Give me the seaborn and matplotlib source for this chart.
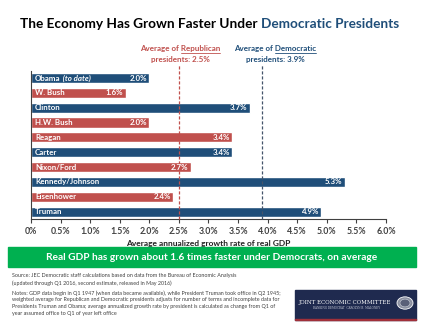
import matplotlib
matplotlib.use("Agg")
import matplotlib.pyplot as plt
import seaborn as sns
import pandas as pd
from matplotlib.patches import Rectangle, Circle
from matplotlib.text import Annotation
from matplotlib.ticker import FuncFormatter

# Data
presidents = ["Obama", "W. Bush", "Clinton", "H.W. Bush", "Reagan", "Carter",
              "Nixon/Ford", "Kennedy/Johnson", "Eisenhower", "Truman"]
parties = ["D", "R", "D", "R", "R", "D", "R", "D", "R", "D"]
growth = [2.0, 1.6, 3.7, 2.0, 3.4, 3.4, 2.7, 5.3, 2.4, 4.9]
avg_republican = 2.5
avg_democratic = 3.9
xticks = [0, 0.5, 1.0, 1.5, 2.0, 2.5, 3.0, 3.5, 4.0, 4.5, 5.0, 5.5, 6.0]

BLUE = "#1F4E79"
RED = "#C0504D"
GREEN = "#00B050"
GREY = "#404040"

sns.set_theme(style="white")
plt.rcParams["font.family"] = ["Lato", "DejaVu Sans"]

df = pd.DataFrame({"president": presidents, "party": parties, "growth": growth})

fig = plt.figure(figsize=(4.27, 3.30), dpi=100)
W, H = 427, 330
ax = fig.add_axes([31 / W, 1 - 219 / H, 355 / W, 148.4 / H])

sns.barplot(data=df, y="president", x="growth", hue="party", orient="h",
            palette={"D": BLUE, "R": RED}, dodge=False, width=0.68,
            saturation=1, legend=False, ax=ax, zorder=2)

ax.set_xlim(0, 6.0)
ax.set_xticks(xticks)
ax.xaxis.set_major_formatter(FuncFormatter(lambda v, p: "0%" if v == 0 else f"{v:.1f}%"))
ax.set_yticks([])
ax.set_ylabel("")
ax.set_xlabel("Average annualized growth rate of real GDP", fontsize=6.0,
              fontweight="bold", color="#202020", labelpad=2.5)
ax.tick_params(axis="x", which="major", bottom=True, length=3, width=0.8,
               color=GREY, labelsize=6.3, labelcolor=GREY, pad=3)
for lab in ax.get_xticklabels():
    lab.set_fontweight("bold")
for side in ["top", "right"]:
    ax.spines[side].set_visible(False)
ax.spines["bottom"].set_color(GREY)
ax.spines["bottom"].set_linewidth(0.8)
ax.spines["left"].set_color(GREY)
ax.spines["left"].set_linewidth(0.8)

# Average lines
ax.axvline(avg_republican, ymin=0, ymax=1.035, color=RED, lw=0.9,
           ls=(0, (2.5, 1.5)), clip_on=False, zorder=3)
ax.axvline(avg_democratic, ymin=0, ymax=1.035, color="#44546A", lw=0.9,
           ls=(0, (2.5, 1.5)), clip_on=False, zorder=3)

# Bar labels
LFS = 5.7
for i, (name, val) in enumerate(zip(presidents, growth)):
    t = ax.text(0.07, i, name, color="white", fontsize=LFS, fontweight="bold",
                va="center", ha="left", zorder=5)
    if name == "Obama":
        ax.annotate(" (to date)", xy=(1, 0), xycoords=t, va="bottom", ha="left",
                    color="white", fontsize=LFS, fontweight="bold",
                    fontstyle="italic", zorder=5)
    ax.text(val - 0.04, i, f"{val:.1f}%", color="white", fontsize=LFS,
            fontweight="bold", va="center", ha="right", zorder=5)

# Title
t1 = fig.text(20 / W, 1 - 28 / H, "The Economy Has Grown Faster Under ",
              fontsize=9.8, fontweight="bold", color="black", ha="left", va="baseline")
fig.add_artist(Annotation("Democratic Presidents", xy=(1, 0), xycoords=t1,
                          va="bottom", ha="left", fontsize=9.8,
                          fontweight="bold", color=BLUE))

# Average annotations with underlined party name
AFS = 5.8
def avg_label(xc, line1, word, line2, color):
    a = fig.text(xc / W, 1 - 51 / H, line1, fontsize=AFS, fontweight="bold",
                 color=color, ha="center", va="baseline")
    fig.text(xc / W, 1 - 62 / H, line2, fontsize=AFS, fontweight="bold",
             color=color, ha="center", va="baseline")
    return a, word, color

labels = [avg_label(180, "Average of Republican", "Republican", "presidents: 2.5%", RED),
          avg_label(275, "Average of Democratic", "Democratic", "presidents: 3.9%", BLUE)]

fig.canvas.draw()
r = fig.canvas.get_renderer()
for a, word, color in labels:
    ext = a.get_window_extent(r)
    tmp = fig.text(0, 0, word, fontsize=AFS, fontweight="bold")
    ww = tmp.get_window_extent(r).width
    tmp.remove()
    y = ext.y0 - 1.0
    fig.add_artist(plt.Line2D([(ext.x1 - ww) / W, ext.x1 / W], [y / H, y / H],
                              color=color, lw=0.6, transform=fig.transFigure))

# Green banner
fig.add_artist(Rectangle((8 / W, 1 - 267 / H), 408 / W, 20 / H, color=GREEN,
                         transform=fig.transFigure))
fig.text(212 / W, 1 - 257 / H,
         "Real GDP has grown about 1.6 times faster under Democrats, on average",
         fontsize=7.3, fontweight="bold", color="white", ha="center", va="center")

# Footnotes
fs = 3.9
fig.text(12 / W, 1 - 273 / H,
         "Source: JEC Democratic staff calculations based on data from the Bureau of Economic Analysis\n"
         "(updated through Q1 2016, second estimate, released in May 2016)",
         fontsize=fs, color=GREY, ha="left", va="top", linespacing=1.45)
fig.text(12 / W, 1 - 290 / H,
         "Notes: GDP data begin in Q1 1947 (when data became available), while President Truman took office in Q2 1945;\n"
         "weighted average for Republican and Democratic presidents adjusts for number of terms and incomplete data for\n"
         "Presidents Truman and Obama; average annualized growth rate by president is calculated as change from Q1 of\n"
         "year assumed office to Q1 of year left office",
         fontsize=fs, color=GREY, ha="left", va="top", linespacing=1.45)

# Committee badge
fig.add_artist(Rectangle((295 / W, 1 - 320 / H), 121 / W, 30 / H, color="#1F2A4F",
                         transform=fig.transFigure))
fig.add_artist(Rectangle((295 / W, 1 - 320 / H), 121 / W, 1.2 / H, color="#A0303A",
                         transform=fig.transFigure))
fig.text(298 / W, 1 - 304 / H, "JOINT ECONOMIC COMMITTEE", fontsize=4.0,
         family="DejaVu Serif", color="white", ha="left", va="baseline")
fig.text(313 / W, 1 - 309 / H, "RANKING DEMOCRAT  CAROLYN B. MALONEY", fontsize=2.0,
         family="DejaVu Serif", color="#C8CCD8", ha="left", va="baseline")
fig.add_artist(Circle((405 / W, 1 - 303 / H), 8 / W, transform=fig.transFigure,
                      facecolor="#8A8FA0", edgecolor="white", lw=0.6))
fig.add_artist(Circle((405 / W, 1 - 303 / H), 5 / W, transform=fig.transFigure,
                      facecolor="#5A6078", edgecolor="#D0D4DC", lw=0.4))

fig.savefig("out.png", dpi=100)
